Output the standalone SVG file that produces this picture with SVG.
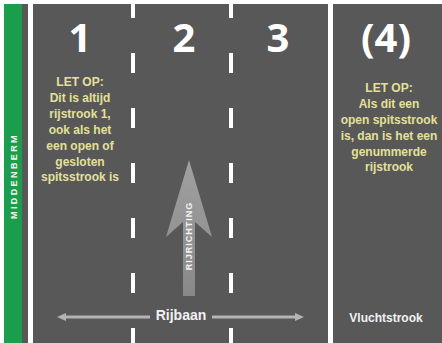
<svg xmlns="http://www.w3.org/2000/svg" width="442" height="343" viewBox="0 0 442 343">
<defs>
<style>
.num{font-family:"Open Sans","Liberation Sans",sans-serif;font-weight:700;font-size:40px;fill:#ffffff;text-anchor:middle}
.note{font-family:"Liberation Sans",Arial,sans-serif;font-weight:700;font-size:12px;fill:#e4e09a;text-anchor:middle}
.lbl{font-family:"Liberation Sans",Arial,sans-serif;font-weight:700;fill:#f2f2f2;text-anchor:middle}
.dash{stroke:#ffffff;stroke-width:4;stroke-dasharray:20 35;stroke-dashoffset:2}
.solid{stroke:#ffffff;stroke-width:5}
.dim{stroke:#b4b4b4;stroke-width:3;fill:none}
</style>
<linearGradient id="ag" x1="0" y1="0" x2="0" y2="1">
<stop offset="0" stop-color="#a8a8a8"/>
<stop offset="1" stop-color="#8e8e8e"/>
</linearGradient>
</defs>
<rect width="442" height="343" fill="#ffffff"/>
<rect x="4" y="4" width="438" height="339" fill="#585858"/>
<g id="middenberm">
<rect x="4" y="4" width="18" height="339" fill="#1b9e4b"/>
<text class="lbl" transform="translate(16.5,176) rotate(-90)" font-size="9" letter-spacing="2.4">MIDDENBERM</text>
</g>
<g id="markings">
<line class="solid" x1="30.5" y1="4" x2="30.5" y2="343"/>
<line class="solid" x1="330.5" y1="4" x2="330.5" y2="343"/>
<line class="dash" x1="133" y1="0" x2="133" y2="343"/>
<line class="dash" x1="231" y1="0" x2="231" y2="343"/>
</g>
<g id="lane1">
<text class="num" x="80" y="52">1</text>
<text class="note"><tspan x="80" y="86">LET OP:</tspan><tspan x="80" y="102">Dit is altijd</tspan><tspan x="80" y="118">rijstrook 1,</tspan><tspan x="80" y="134">ook als het</tspan><tspan x="80" y="150">een open of</tspan><tspan x="80" y="166">gesloten</tspan><tspan x="80" y="181">spitsstrook is</tspan></text>
</g>
<g id="lane2">
<text class="num" x="184" y="52">2</text>
</g>
<g id="lane3">
<text class="num" x="278" y="52">3</text>
</g>
<g id="lane4">
<text class="num" x="386" y="52">(4)</text>
<text class="note"><tspan x="389" y="92">LET OP:</tspan><tspan x="389" y="108">Als dit een</tspan><tspan x="389" y="124">open spitsstrook</tspan><tspan x="389" y="140">is, dan is het een</tspan><tspan x="389" y="156">genummerde</tspan><tspan x="389" y="171">rijstrook</tspan></text>
<text class="lbl" x="386" y="322" font-size="12">Vluchtstrook</text>
</g>
<g id="rijrichting">
<polygon points="189,160 212,237 195,222 195,296 183,296 183,222 166,237" fill="url(#ag)" opacity="0.9"/>
<text class="lbl" transform="translate(192.3,236) rotate(-90)" font-size="9" letter-spacing="1" fill="#e8e8e8">RIJRICHTING</text>
</g>
<g id="connectors">
<polyline class="dim" points="64,317 150,317"/>
<polygon points="57,317 66,313 66,321" fill="#b4b4b4"/>
<polyline class="dim" points="212,317 297,317"/>
<polygon points="304,317 295,313 295,321" fill="#b4b4b4"/>
</g>
<g id="rijbaan">
<text class="lbl" x="181" y="320" font-size="14">Rijbaan</text>
</g>
</svg>
